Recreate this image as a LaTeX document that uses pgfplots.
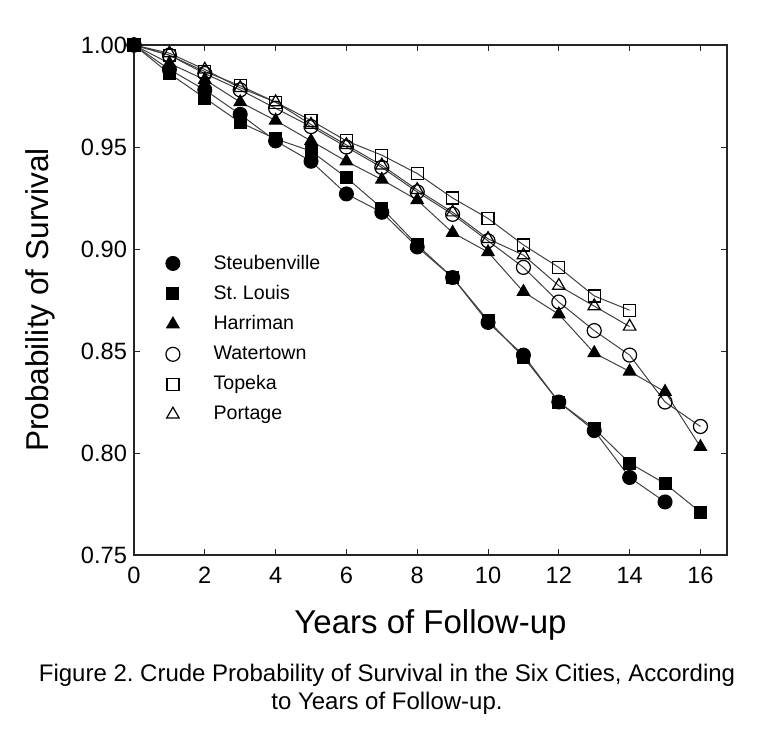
\documentclass[border=0pt]{standalone}
\usepackage{pgfplots}
\pgfplotsset{compat=1.18}
\usepackage{fontspec}
\setmainfont{Liberation Sans}
\begin{document}
\frenchspacing
\begin{tikzpicture}
\path[use as bounding box] (-67pt,-89.5pt) rectangle (316pt,277.5pt);
\begin{axis}[
  scale only axis,
  width=296.5pt, height=255pt,
  xmin=0, xmax=16.75, ymin=0.75, ymax=1.00,
  xtick={0,2,...,16},
  ytick={0.75,0.80,...,1.00},
  tick pos=both, tick align=inside,
  major tick length=3pt,
  /pgf/number format/assume math mode=true,
  yticklabel style={/pgf/number format/fixed,/pgf/number format/fixed zerofill,/pgf/number format/precision=2},
  xticklabel style={/pgf/number format/fixed, yshift=-2.5pt},
  tick label style={font=\fontsize{11.8pt}{13pt}\selectfont},
  xlabel={Years of Follow-up},
  ylabel={Probability of Survival},
  xlabel style={font=\fontsize{16.5pt}{18pt}\selectfont, at={(axis description cs:0.5,-0.137)}, anchor=center},
  ylabel style={font=\fontsize{15.8pt}{18pt}\selectfont, at={(axis description cs:-0.158,0.5)}, anchor=center},
  axis line style={black!85, line width=0.6pt},
  every tick/.style={black!85, line width=0.5pt},
  legend style={at={(rel axis cs:0.03,0.605)}, anchor=north west, draw=none, fill=none,
     font=\fontsize{9.8pt}{12pt}\selectfont, row sep=2.6pt,
     nodes={inner xsep=3pt}},
  legend cell align=left,
  legend image code/.code={\path (0cm,0cm) (0.85cm,0cm); \draw[#1] plot coordinates {(0.25cm,0cm)};},
  every axis plot/.append style={line width=0.5pt, black!75},
]
% lines + markers
\addplot[forget plot, mark=o, mark size=3.5pt, mark options={draw=black, fill=white, line width=0.6pt}] coordinates {
(0,1.000)(1,0.995)(2,0.986)(3,0.978)(4,0.969)(5,0.960)(6,0.950)(7,0.940)(8,0.928)(9,0.917)(10,0.904)(11,0.891)(12,0.874)(13,0.860)(14,0.848)(15,0.825)(16,0.813)};
\addplot[forget plot, mark=square, mark size=3pt, mark options={draw=black, fill=white, line width=0.6pt}] coordinates {
(0,1.000)(1,0.995)(2,0.987)(3,0.980)(4,0.972)(5,0.963)(6,0.953)(7,0.946)(8,0.937)(9,0.925)(10,0.915)(11,0.902)(12,0.891)(13,0.877)(14,0.870)};
\addplot[forget plot, mark=triangle, mark size=3.6pt, mark options={draw=black, fill=white, line width=0.6pt}] coordinates {
(0,1.000)(1,0.996)(2,0.988)(3,0.979)(4,0.972)(5,0.961)(6,0.951)(7,0.941)(8,0.929)(9,0.918)(10,0.905)(11,0.897)(12,0.882)(13,0.872)(14,0.862)};
\addplot[forget plot, mark=triangle*, mark size=3.6pt, mark options={draw=black, fill=black}] coordinates {
(0,1.000)(1,0.991)(2,0.983)(3,0.972)(4,0.963)(5,0.953)(6,0.943)(7,0.934)(8,0.924)(9,0.908)(10,0.8985)(11,0.879)(12,0.868)(13,0.849)(14,0.840)(15,0.830)(16,0.803)};
\addplot[forget plot, mark=square*, mark size=3pt, mark options={draw=black, fill=black}] coordinates {
(0,1.000)(1,0.986)(2,0.974)(3,0.962)(4,0.954)(5,0.948)(6,0.935)(7,0.920)(8,0.902)(9,0.886)(10,0.865)(11,0.847)(12,0.825)(13,0.812)(14,0.795)(15,0.785)(16,0.771)};
\addplot[forget plot, mark=*, mark size=3.5pt, mark options={draw=black, fill=black}] coordinates {
(0,1.000)(1,0.988)(2,0.978)(3,0.966)(4,0.953)(5,0.943)(6,0.927)(7,0.918)(8,0.901)(9,0.886)(10,0.864)(11,0.848)(12,0.825)(13,0.811)(14,0.788)(15,0.776)};
% legend
\addlegendimage{only marks, mark=*, mark size=3.5pt, mark options={draw=black, fill=black}}
\addlegendentry{Steubenville}
\addlegendimage{only marks, mark=square*, mark size=3pt, mark options={draw=black, fill=black}}
\addlegendentry{St. Louis}
\addlegendimage{only marks, mark=triangle*, mark size=3.6pt, mark options={draw=black, fill=black}}
\addlegendentry{Harriman}
\addlegendimage{only marks, mark=o, mark size=3.5pt, mark options={draw=black, fill=white, line width=0.6pt}}
\addlegendentry{Watertown}
\addlegendimage{only marks, mark=square, mark size=3pt, mark options={draw=black, fill=white, line width=0.6pt}}
\addlegendentry{Topeka}
\addlegendimage{only marks, mark=triangle, mark size=3.6pt, mark options={draw=black, fill=white, line width=0.6pt}}
\addlegendentry{Portage}
\end{axis}
\node[align=center, font=\fontsize{12pt}{14pt}\selectfont, anchor=center] at (126.5pt,-67pt)
  {Figure 2. Crude Probability of Survival in the Six Cities, According\\to Years of Follow-up.};
\end{tikzpicture}
\end{document}
